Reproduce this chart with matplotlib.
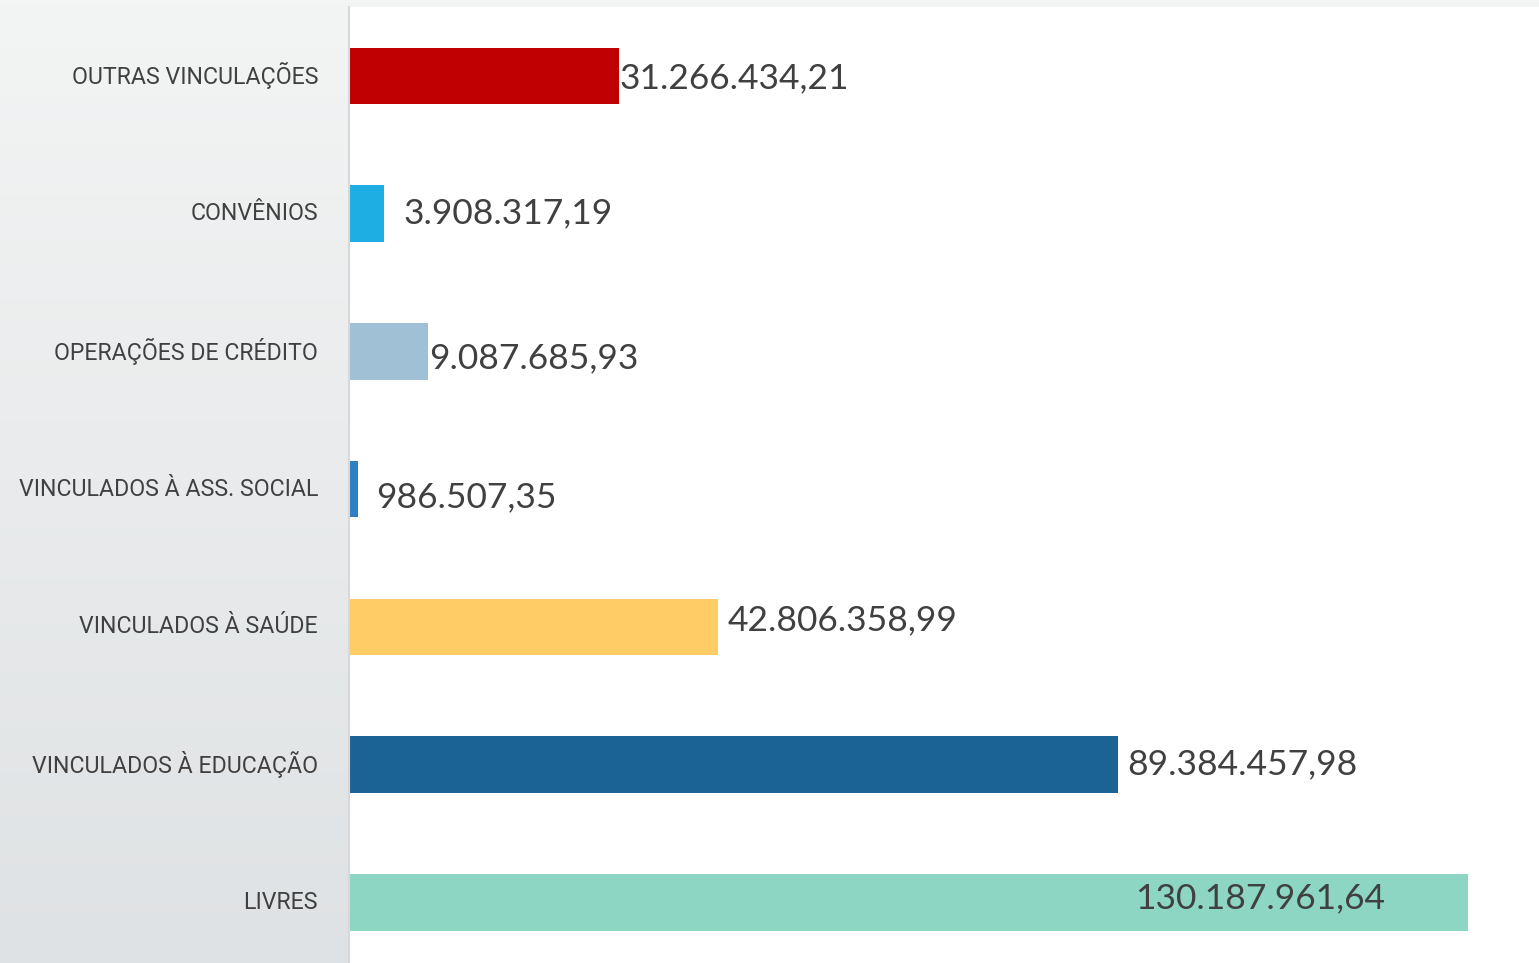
import numpy as np
import matplotlib.pyplot as plt
from matplotlib.colors import LinearSegmentedColormap

categorias = ["OUTRAS VINCULAÇÕES", "CONVÊNIOS", "OPERAÇÕES DE CRÉDITO",
              "VINCULADOS À ASS. SOCIAL", "VINCULADOS À SAÚDE",
              "VINCULADOS À EDUCAÇÃO", "LIVRES"]
valores = [31266434.21, 3908317.19, 9087685.93, 986507.35,
           42806358.99, 89384457.98, 130187961.64]
rotulos = ["31.266.434,21", "3.908.317,19", "9.087.685,93", "986.507,35",
           "42.806.358,99", "89.384.457,98", "130.187.961,64"]
cores = ["#c00000", "#1eaee4", "#a0c0d6", "#2e80c4", "#ffcc66", "#1c6395", "#8dd6c3"]

# deslocamento dos rotulos (pontos) em relacao ao fim da barra
desl_x = [1, 14, 1, 13, 7, 7, -240]
desl_y = [-2, 0, -5, -6, 5, 0, 3]

fig = plt.figure(figsize=(15.39, 9.63), dpi=100)

# fundo degrade
fundo = fig.add_axes([0, 0, 1, 1])
grad = np.linspace(0, 1, 256).reshape(-1, 1)
cmap = LinearSegmentedColormap.from_list("g", ["#f3f4f4", "#dfe2e4"])
fundo.imshow(grad, aspect="auto", cmap=cmap, extent=[0, 1, 0, 1], origin="upper")
fundo.axis("off")

x0 = 350 / 1539
ax = fig.add_axes([x0, 0, 1 - x0, 956 / 963])
ax.set_facecolor("white")
y = np.arange(len(categorias))
ax.barh(y, valores, height=0.41, color=cores)
ax.set_xlim(0, 138.45e6)
ax.set_ylim(6.44, -0.50)
for s in ax.spines.values():
    s.set_visible(False)
ax.set_xticks([])
ax.set_yticks([])
fig.add_artist(plt.Line2D([349 / 1539, 349 / 1539], [0, 956 / 963],
                          color="#d6d8d9", lw=1.5))

nomes = []
for i in range(len(categorias)):
    ax.annotate(rotulos[i], (valores[i], y[i]), xytext=(desl_x[i], desl_y[i]),
                textcoords="offset points", ha="left", va="center",
                fontsize=25.5, color="#404040", family=["Lato", "DejaVu Sans"])
    t = ax.annotate(categorias[i], (0, y[i]), xytext=(-23, 0),
                    textcoords="offset points", ha="right", va="center",
                    fontsize=20, color="#404040",
                    family=["Roboto", "DejaVu Sans"],
                    annotation_clip=False)
    nomes.append(t)

# ajusta o tamanho dos nomes para o maior caber no painel (~300 px)
r = fig.canvas.get_renderer()
larg = max(t.get_window_extent(r).width for t in nomes)
for t in nomes:
    t.set_fontsize(20 * 300 / larg)

fig.savefig("out.png", dpi=100)
